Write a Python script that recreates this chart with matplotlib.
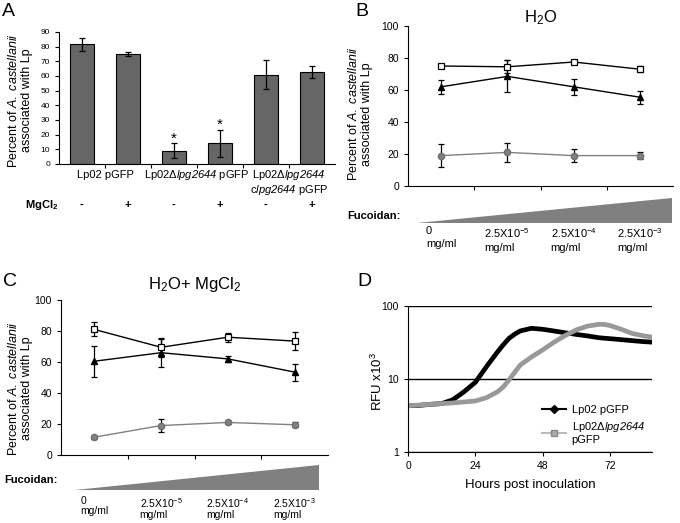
import matplotlib
matplotlib.use("Agg")
import matplotlib.pyplot as plt
from matplotlib import patches, transforms
from matplotlib.lines import Line2D
import numpy as np

plt.rcParams["font.family"] = ["Liberation Sans", "DejaVu Sans"]
plt.rcParams["mathtext.fontset"] = "custom"
plt.rcParams["mathtext.rm"] = "Liberation Sans"
plt.rcParams["mathtext.it"] = "Liberation Sans:italic"
plt.rcParams["mathtext.bf"] = "Liberation Sans:bold"
# italic font also for digits (\mathit keeps digits upright)
plt.rcParams["mathtext.sf"] = "Liberation Sans:italic"
plt.rcParams["xtick.direction"] = "out"
plt.rcParams["ytick.direction"] = "out"

## Data

# Panel A: bars
a_groups = ["Lp02 pGFP", "Lp02Δ$\\mathsf{lpg2644}$ pGFP", "Lp02Δ$\\mathsf{lpg2644}$\nc$\\mathsf{lpg2644}$ pGFP"]
a_mgcl2 = ["-", "+", "-", "+", "-", "+"]
a_values = [81.5, 75.0, 9.0, 14.0, 61.0, 62.5]
a_errors = [4.5, 1.5, 5.0, 9.5, 10.0, 4.0]
a_signif = [False, False, True, True, False, False]

# Panels B and C: fucoidan dose
doses = ["0\nmg/ml", "2.5X10$^{-5}$\nmg/ml", "2.5X10$^{-4}$\nmg/ml", "2.5X10$^{-3}$\nmg/ml"]

b_square = [75.0, 74.5, 77.5, 73.0]
b_square_err = [1.5, 4.0, 1.0, 2.0]
b_triangle = [62.0, 68.5, 62.0, 55.5]
b_triangle_err = [4.5, 10.0, 5.0, 4.0]
b_circle = [19.0, 21.0, 19.0, 19.0]
b_circle_err = [7.0, 6.0, 4.0, 2.0]

c_square = [81.0, 69.5, 76.0, 73.5]
c_square_err = [4.5, 6.0, 3.0, 6.0]
c_triangle = [60.5, 66.0, 62.0, 53.5]
c_triangle_err = [10.0, 9.0, 2.0, 5.5]
c_circle = [11.5, 19.0, 21.0, 19.5]
c_circle_err = [1.0, 4.0, 1.0, 1.5]

# Panel D: growth curves (RFU x10^3)
d_hours = [0, 4, 8, 12, 16, 20, 24, 28, 32, 34, 36, 38, 40, 44, 48, 52, 56, 60, 64, 68, 70, 72, 76, 80, 84, 87]
d_wt = [4.3, 4.35, 4.5, 4.6, 5.2, 6.7, 9.0, 14.8, 23.7, 29.5, 36.0, 41.0, 45.5, 49.5, 48.0, 45.5, 43.0,
        40.8, 38.9, 36.8, 36.2, 35.7, 34.6, 33.5, 32.5, 32.0]
d_mut = [4.3, 4.4, 4.5, 4.6, 4.7, 4.85, 5.0, 5.55, 6.7, 7.8, 9.7, 12.3, 15.5, 20.0, 25.0, 31.8, 39.3,
         47.0, 53.0, 56.0, 56.0, 54.0, 48.0, 42.0, 39.0, 37.5]
d_labels = ["Lp02 pGFP", "Lp02Δ$\\mathsf{lpg2644}$\npGFP"]

W, H = 680, 523


def frame(left, top, right, bottom):
    return [left / W, 1 - bottom / H, (right - left) / W, (bottom - top) / H]


fig = plt.figure(figsize=(6.8, 5.23), dpi=100)

label_font = 9
tick_font = 7.5


def style_axes(ax):
    ax.spines["top"].set_visible(False)
    ax.spines["right"].set_visible(False)
    ax.tick_params(axis="both", length=3, width=0.8, labelsize=tick_font)


ylabel_text = "Percent of $\\it{A.\\ castellanii}$\nassociated with Lp"

## Panel A
axA = fig.add_axes(frame(59, 32, 335, 164))
style_axes(axA)
xa = np.arange(len(a_values))
axA.bar(xa, a_values, width=0.52, color="#666666", edgecolor="black", linewidth=0.8)
axA.errorbar(xa, a_values, yerr=a_errors, fmt="none", ecolor="black", elinewidth=0.9, capsize=2.5, capthick=0.9)
for i, flag in enumerate(a_signif):
    if flag:
        axA.text(xa[i], a_values[i] + a_errors[i] + 3, "*", ha="center", va="center", fontsize=11)
axA.set_xlim(-0.5, len(a_values) - 0.5)
axA.set_ylim(0, 90)
axA.set_yticks(np.arange(0, 91, 10))
axA.tick_params(axis="y", labelsize=6)
axA.set_xticks(np.arange(0.5, len(a_values) - 0.5, 1))
axA.set_xticklabels([])
tA = transforms.blended_transform_factory(axA.transData, axA.transAxes)
for g, lab in enumerate(a_groups):
    for k, line in enumerate(lab.split("\n")):
        axA.text(2 * g + 0.5, -0.085 - 0.115 * k, line, transform=tA, ha="center", va="center", fontsize=8)
axA.set_ylabel(ylabel_text, fontsize=label_font, linespacing=1.1)
axA.yaxis.set_label_coords(-0.094, 0.48)
for i, s in enumerate(a_mgcl2):
    axA.text(xa[i], -0.31, s, transform=tA, ha="center", va="center", fontsize=8, fontweight="bold")
fig.text(42 / W, 1 - 205 / H, "MgCl$_\\mathbf{2}$", ha="center", va="center", fontsize=8, fontweight="bold")


def dose_panel(ax, sq, sq_e, tr, tr_e, ci, ci_e, title, title_y, wedge, lab_y, lab_ls, lab_fs):
    style_axes(ax)
    x = np.arange(len(doses))
    ax.errorbar(x, ci, yerr=ci_e, color="#808080", marker="o", ms=4.5, mec="#707070", mfc="#808080",
                lw=1.0, elinewidth=0.9, ecolor="black", capsize=2.2, capthick=0.9)
    ax.errorbar(x, tr, yerr=tr_e, color="black", marker="^", ms=5, mfc="black", mec="black",
                lw=1.0, elinewidth=0.9, ecolor="black", capsize=2.2, capthick=0.9)
    ax.errorbar(x, sq, yerr=sq_e, color="black", marker="s", ms=4.5, mfc="white", mec="black", mew=0.9,
                lw=1.0, elinewidth=0.9, ecolor="black", capsize=2.2, capthick=0.9)
    ax.set_xlim(-0.5, len(doses) - 0.5)
    ax.set_ylim(0, 100)
    ax.set_yticks(np.arange(0, 101, 20))
    ax.set_xticks(np.arange(0.5, len(doses) - 0.5, 1))
    ax.set_xticklabels([])
    ax.set_ylabel(ylabel_text, fontsize=label_font, linespacing=1.1)
    ax.set_title(title, fontsize=12, y=title_y, va="center")
    x0, x1, y0, y1 = wedge
    ax.add_patch(patches.Polygon([[x0, y0], [x1, y0], [x1, y1]], closed=True, transform=ax.transAxes,
                                 clip_on=False, facecolor="#808080", edgecolor="none"))
    tr_ = transforms.blended_transform_factory(ax.transData, ax.transAxes)
    for i, d in enumerate(doses):
        ax.text(x[i], lab_y, d, transform=tr_, ha="center", va="top", multialignment="left",
                fontsize=lab_fs, linespacing=lab_ls)


## Panel B
axB = fig.add_axes(frame(408, 26, 673, 186))
dose_panel(axB, b_square, b_square_err, b_triangle, b_triangle_err, b_circle, b_circle_err,
           "H$_2$O", 1.0, (0.034, 0.996, -0.232, -0.075), -0.25, 1.35, 8)
axB.yaxis.set_label_coords(-0.132, 0.45)
fig.text(347 / W, 1 - 216 / H, "Fucoidan:", ha="left", va="center", fontsize=8, fontweight="bold")

## Panel C
axC = fig.add_axes(frame(61, 300, 328, 455))
dose_panel(axC, c_square, c_square_err, c_triangle, c_triangle_err, c_circle, c_circle_err,
           "H$_2$O+ MgCl$_2$", 1.045, (0.052, 0.966, -0.226, -0.065), -0.265, 1.0, 7.5)
axC.yaxis.set_label_coords(-0.105, 0.43)
fig.text(4 / W, 1 - 480 / H, "Fucoidan:", ha="left", va="center", fontsize=8, fontweight="bold")

## Panel D
axD = fig.add_axes(frame(408, 306, 652, 452))
style_axes(axD)
axD.set_yscale("log")
axD.plot(d_hours, d_wt, color="black", lw=3.4, solid_capstyle="round", solid_joinstyle="round")
axD.plot(d_hours, d_mut, color="#999999", lw=3.4, solid_capstyle="round", solid_joinstyle="round")
axD.set_xlim(0, 87)
axD.set_ylim(1, 100)
axD.set_xticks([0, 24, 48, 72])
axD.set_yticks([1, 10, 100], labels=["1", "10", "100"])
axD.yaxis.set_minor_locator(matplotlib.ticker.NullLocator())
axD.grid(axis="y", which="major", color="black", lw=1.0)
axD.set_axisbelow(True)
axD.set_xlabel("Hours post inoculation", fontsize=9.5, labelpad=6)
axD.set_ylabel("RFU x10$^3$", fontsize=9.5)
axD.yaxis.set_label_coords(-0.094, 0.48)
handles = [
    Line2D([], [], color="black", lw=1.5, marker="D", ms=4),
    Line2D([], [], color="#bbbbbb", lw=1.5, marker="s", ms=4.5, mfc="#aaaaaa", mec="#888888"),
]
axD.legend(handles, d_labels, loc="lower left", bbox_to_anchor=(0.52, 0.0), frameon=False, fontsize=8,
           handlelength=2.2, handletextpad=0.5, labelspacing=0.4, borderaxespad=0.2)

## Panel letters
for txt, px, py in [("A", 2, 11), ("B", 355, 11), ("C", 3, 281), ("D", 357, 281)]:
    fig.text(px / W, 1 - py / H, txt, ha="left", va="center", fontsize=14)

fig.savefig("out.png", dpi=100)
